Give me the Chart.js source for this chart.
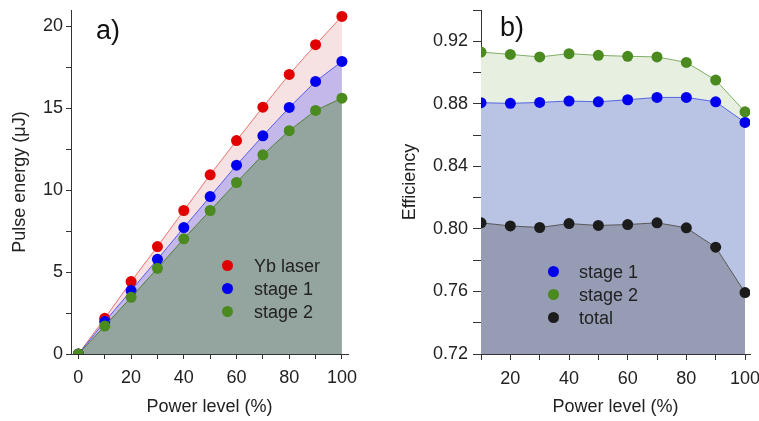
<!DOCTYPE html>
<html>
<head>
<meta charset="utf-8">
<script src="https://cdn.jsdelivr.net/npm/chart.js@4.4.0/dist/chart.umd.min.js"></script>
<style>
  html, body { margin: 0; padding: 0; background: #ffffff; }
  body { width: 759px; height: 421px; position: relative; overflow: hidden; font-family: "Liberation Sans", Arial, sans-serif; color: #222; }
  .panel { position: absolute; top: 0; height: 421px; }
  .tag { position: absolute; font-size: 27px; color: #111; line-height: 1; }
  .legend { position: absolute; font-size: 18px; color: #222; }
  .legend .row { position: absolute; white-space: nowrap; line-height: 20px; }
  .legend .dot { position: absolute; width: 11px; height: 11px; border-radius: 50%; top: 4px; }
  .legend .lbl { position: absolute; }
</style>
</head>
<body>
<div class="panel" style="left:0;width:380px;"><canvas id="ca" width="380" height="421"></canvas></div>
<div class="panel" style="left:380px;width:379px;"><canvas id="cb" width="379" height="421"></canvas></div>
<div class="tag" style="left:96px;top:17px;">a)</div>
<div class="tag" style="left:500px;top:14px;">b)</div>
<div class="legend" id="legA"></div>
<div class="legend" id="legB"></div>
<script>
// ---------- Panel a data ----------
const powerA = [0, 10, 20, 30, 40, 50, 60, 70, 80, 90, 100];
const ybLaser = [0, 2.18, 4.42, 6.56, 8.76, 10.94, 13.03, 15.07, 17.07, 18.88, 20.61];
const stage1Energy = [0, 1.98, 3.87, 5.78, 7.72, 9.61, 11.53, 13.32, 15.05, 16.64, 17.86];
const stage2Energy = [0, 1.71, 3.46, 5.23, 7.03, 8.76, 10.47, 12.16, 13.63, 14.87, 15.62];
const xTicksA = [0, 10, 20, 30, 40, 50, 60, 70, 80, 90, 100];
const xLabelsA = [0, 20, 40, 60, 80, 100];
const yTicksA = [0, 2.5, 5, 7.5, 10, 12.5, 15, 17.5, 20];
const yLabelsA = [0, 5, 10, 15, 20];

// ---------- Panel b data ----------
const powerB = [10, 20, 30, 40, 50, 60, 70, 80, 90, 100];
const stage1Eff = [0.8807, 0.8803, 0.8809, 0.8818, 0.8813, 0.8826, 0.8841, 0.8841, 0.8813, 0.8681];
const stage2Eff = [0.9131, 0.9116, 0.9100, 0.9121, 0.9110, 0.9104, 0.9100, 0.9065, 0.8952, 0.8749];
const totalEff = [0.8039, 0.8019, 0.8009, 0.8034, 0.8022, 0.8028, 0.8039, 0.8007, 0.7883, 0.7593];
const xTicksB = [10, 20, 30, 40, 50, 60, 70, 80, 90, 100];
const xLabelsB = [20, 40, 60, 80, 100];
const yTicksB = [0.72, 0.74, 0.76, 0.78, 0.80, 0.82, 0.84, 0.86, 0.88, 0.90, 0.92, 0.94];
const yLabelsB = ["0.72", "0.76", "0.80", "0.84", "0.88", "0.92"];

const FONT = "'Liberation Sans', Arial, sans-serif";
const AXIS = '#333333';

function pts(xs, ys) { return xs.map((x, i) => ({ x: x, y: ys[i] })); }
function setTicks(vals) { return (scale) => { scale.ticks = vals.map(v => ({ value: v })); }; }
function near(a, b) { return Math.abs(a - b) < 1e-6; }

function axis(opts) {
  return {
    type: 'linear',
    position: opts.position,
    min: opts.min, max: opts.max,
    afterBuildTicks: setTicks(opts.ticks),
    afterFit: (s) => {
      if (opts.width) s.width = opts.width;
      if (opts.height) s.height = opts.height;
      s.paddingTop = 0; s.paddingBottom = 0; s.paddingLeft = 0; s.paddingRight = 0;
    },
    border: { display: true, color: AXIS, width: 1 },
    grid: { display: true, drawOnChartArea: false, drawTicks: true, tickLength: opts.tickLength, color: AXIS, tickColor: AXIS, tickWidth: 1 },
    ticks: {
      autoSkip: false, maxRotation: 0, padding: opts.pad,
      color: '#222', font: { family: FONT, size: 18 },
      callback: opts.cb
    },
    title: { display: true, text: opts.title, color: '#222', font: { family: FONT, size: 18 }, padding: opts.titlePad }
  };
}

// ---------- Chart a ----------
new Chart(document.getElementById('ca'), {
  type: 'line',
  data: {
    datasets: [
      { label: 'Yb laser', data: pts(powerA, ybLaser), borderColor: '#ec7272', borderWidth: 1, backgroundColor: '#f6e2e2', fill: '+1',
        pointBackgroundColor: '#e00000', pointBorderWidth: 0, pointRadius: 5.5, order: 2 },
      { label: 'stage 1', data: pts(powerA, stage1Energy), borderColor: '#5a5af0', borderWidth: 1, backgroundColor: '#c4b7e9', fill: '+1',
        pointBackgroundColor: '#0000ee', pointBorderWidth: 0, pointRadius: 5.5, order: 1 },
      { label: 'stage 2', data: pts(powerA, stage2Energy), borderColor: '#4f7d35', borderWidth: 1, backgroundColor: '#94a49f', fill: 'origin',
        pointBackgroundColor: '#4a8a1f', pointBorderWidth: 0, pointRadius: 5.5, order: 0 }
    ]
  },
  options: {
    responsive: false, animation: false, devicePixelRatio: 1,
    layout: { padding: { top: 10, right: 32, left: 0, bottom: 0 } },
    elements: { line: { tension: 0 } },
    plugins: { legend: { display: false }, tooltip: { enabled: false }, filler: { drawTime: 'beforeDatasetsDraw' } },
    scales: {
      x: axis({ position: 'bottom', min: -2.8, max: 102.3, ticks: xTicksA, height: 67, tickLength: 5, pad: 8,
        cb: (v) => xLabelsA.some(l => near(l, v)) ? String(v) : '', title: 'Power level (%)', titlePad: { top: 0, bottom: 3 } }),
      y: axis({ position: 'left', min: 0, max: 21, ticks: yTicksA, width: 71, tickLength: 5, pad: 3,
        cb: (v) => yLabelsA.some(l => near(l, v)) ? String(v) : '', title: 'Pulse energy (μJ)', titlePad: { top: 9, bottom: 0 } })
    }
  }
});

// ---------- Chart b ----------
new Chart(document.getElementById('cb'), {
  type: 'line',
  data: {
    datasets: [
      { label: 'stage 1', data: pts(powerB, stage1Eff), borderColor: '#5564e6', borderWidth: 1, backgroundColor: '#b9c3e4', fill: 2,
        pointBackgroundColor: '#0000ee', pointBorderWidth: 0, pointRadius: 5.5, order: 0 },
      { label: 'stage 2', data: pts(powerB, stage2Eff), borderColor: '#7fae63', borderWidth: 1, backgroundColor: '#e6efe0', fill: 0,
        pointBackgroundColor: '#4a8a1f', pointBorderWidth: 0, pointRadius: 5.5, order: 1 },
      { label: 'total', data: pts(powerB, totalEff), borderColor: '#555555', borderWidth: 1, backgroundColor: '#959cb4', fill: 'start',
        pointBackgroundColor: '#1c1c1c', pointBorderWidth: 0, pointRadius: 5.5, order: 2 }
    ]
  },
  options: {
    responsive: false, animation: false, devicePixelRatio: 1,
    layout: { padding: { top: 10, right: 9, left: 0, bottom: 0 } },
    elements: { line: { tension: 0 } },
    plugins: { legend: { display: false }, tooltip: { enabled: false }, filler: { drawTime: 'beforeDatasetsDraw' } },
    scales: {
      x: axis({ position: 'bottom', min: 10, max: 101.7, ticks: xTicksB, height: 67, tickLength: 6, pad: 8,
        cb: (v) => xLabelsB.some(l => near(l, v)) ? String(v) : '', title: 'Power level (%)', titlePad: { top: 0, bottom: 3 } }),
      y: axis({ position: 'left', min: 0.72, max: 0.94, ticks: yTicksB, width: 101, tickLength: 8, pad: 5,
        cb: (v) => { const s = v.toFixed(2); return yLabelsB.includes(s) ? s : ''; }, title: 'Efficiency', titlePad: { top: 19, bottom: 0 } })
    }
  }
});

// ---------- HTML legends ----------
const legendA = [['Yb laser', '#e00000'], ['stage 1', '#0000ee'], ['stage 2', '#4a8a1f']];
const legendB = [['stage 1', '#0000ee'], ['stage 2', '#4a8a1f'], ['total', '#1c1c1c']];
function buildLegend(id, items, left, top, gap, textOff) {
  const el = document.getElementById(id);
  el.style.left = left + 'px'; el.style.top = top + 'px';
  items.forEach((it, i) => {
    const r = document.createElement('div'); r.className = 'row'; r.style.top = (i * gap) + 'px';
    const d = document.createElement('span'); d.className = 'dot'; d.style.background = it[1]; d.style.left = '0px';
    const t = document.createElement('span'); t.className = 'lbl'; t.style.left = textOff + 'px'; t.textContent = it[0];
    r.appendChild(d); r.appendChild(t); el.appendChild(r);
  });
}
buildLegend('legA', legendA, 222, 256, 23, 32);
buildLegend('legB', legendB, 548, 262, 23, 31);
</script>
</body>
</html>
